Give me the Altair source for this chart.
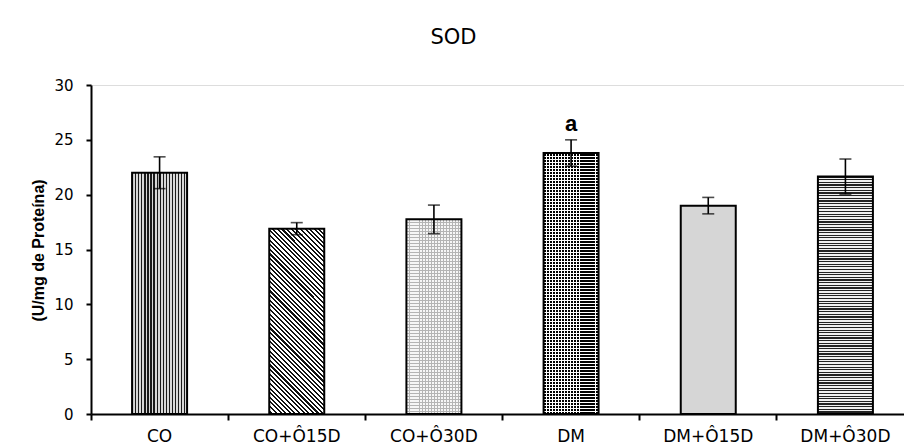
import altair as alt
import pandas as pd

# ---- data ----
categories = ["CO", "CO+Ô15D", "CO+Ô30D", "DM", "DM+Ô15D", "DM+Ô30D"]
means = [22.0, 16.9, 17.75, 23.8, 19.0, 21.65]
errors = [1.45, 0.55, 1.3, 1.2, 0.75, 1.6]
letters = ["", "", "", "a", "", ""]
y_ticks = [0, 5, 10, 15, 20, 25, 30]

df = pd.DataFrame({"grupo": categories, "media": means, "erro": errors, "sig": letters})
df["lo"] = df["media"] - df["erro"]
df["hi"] = df["media"] + df["erro"]

TRANSP = "rgba(255,255,255,0)"
Y_TITLE = "(U/mg de Proteína)"


def stripes(c1, c2, n, x1, y1, x2, y2, frac=0.5):
    stops = []
    for i in range(n):
        a = i / n
        b = (i + frac) / n
        c = (i + 1) / n
        stops += [
            {"offset": a, "color": c1},
            {"offset": b, "color": c1},
            {"offset": b, "color": c2},
            {"offset": c, "color": c2},
        ]
    return {"gradient": "linear", "stops": stops, "x1": x1, "y1": y1, "x2": x2, "y2": y2}


def vert(c1, c2, n, frac=0.5):
    return stripes(c1, c2, n, 0, 0, 1, 0, frac)


def horiz(c1, c2, n, frac=0.5):
    return stripes(c1, c2, n, 0, 0, 0, 1, frac)


# fill patterns (approximations of the hatch patterns)
patterns = {
    "CO": [vert("#1a1a1a", "#d8d8d8", 18, 0.4)],
    "CO+Ô15D": [stripes("#111111", "#ffffff", 52, 1, 0, 0.646, 1.192, 0.45)],
    "CO+Ô30D": [vert("#b4b4b4", "#f6f6f6", 18, 0.3), horiz("#b4b4b4", TRANSP, 65, 0.3)],
    "DM": [vert("#000000", "#ffffff", 18, 0.75), horiz("#ffffff", TRANSP, 87, 0.25)],
    "DM+Ô15D": ["#d6d6d6"],
    "DM+Ô30D": [horiz("#222222", "#f0f0f0", 90, 0.45)],
}

BAR_W = 55

x_enc = alt.X(
    "grupo:N",
    sort=categories,
    scale=alt.Scale(domain=categories, range=[0, 823], paddingInner=0, paddingOuter=0),
    axis=alt.Axis(
        title=None,
        labelAngle=0,
        bandPosition=0,
        tickSize=6,
        tickWidth=2,
        tickColor="black",
        domainColor="black",
        domainWidth=2,
        labelFont="DejaVu Sans",
        labelFontSize=17,
        labelColor="black",
        labelPadding=8,
    ),
)

y_scale = alt.Scale(domain=[0, 30], nice=False, zero=True)
y_axis = alt.Axis(
    values=y_ticks,
    grid=False,
    tickSize=5,
    tickWidth=2,
    tickColor="black",
    domainColor="black",
    domainWidth=2,
    labelFont="DejaVu Sans",
    labelFontSize=15,
    labelColor="black",
    labelPadding=13,
    title=Y_TITLE,
    titleFont="Liberation Sans",
    titleFontSize=16,
    titleFontWeight="bold",
    titleColor="black",
    titleAngle=-90,
    titleX=-53,
    titleY=165,
    titleAlign="center",
    titleBaseline="middle",
)


def y_enc(field):
    return alt.Y(field, type="quantitative", scale=y_scale, axis=y_axis, title=Y_TITLE)


base = alt.Chart(df).encode(x=x_enc, y=y_enc("media"))

layers = []
for cat in categories:
    for fill in patterns[cat]:
        layers.append(
            base.transform_filter(alt.datum.grupo == cat).mark_bar(
                size=BAR_W, fill=fill, strokeWidth=0
            )
        )

outline = base.mark_bar(size=BAR_W, filled=False, color="black", strokeWidth=2)
err_rule = base.mark_rule(color="black", strokeWidth=1.6).encode(
    y=y_enc("lo"), y2="hi:Q"
)
cap_hi = base.mark_tick(color="black", size=12, thickness=1.6).encode(y=y_enc("hi"))
cap_lo = base.mark_tick(color="black", size=12, thickness=1.6).encode(y=y_enc("lo"))
sig = base.mark_text(
    font="Liberation Sans", fontSize=22, fontWeight="bold", baseline="bottom", dy=-4, color="black"
).encode(y=y_enc("hi"), text="sig:N")

chart = (
    alt.layer(*layers, outline, err_rule, cap_hi, cap_lo, sig)
    .properties(
        width=813,
        height=329,
        padding={"left": 91, "top": 85, "right": 0, "bottom": 32},
        autosize="none",
        title=alt.TitleParams(
            "SOD",
            font="DejaVu Sans",
            fontSize=21,
            fontWeight="normal",
            color="black",
            anchor="middle",
            dx=-44,
            offset=30,
        ),
    )
    .configure_view(stroke=None)
    .configure(background="white")
)

chart.save("out.html", embed_options={"renderer": "svg", "actions": False})
